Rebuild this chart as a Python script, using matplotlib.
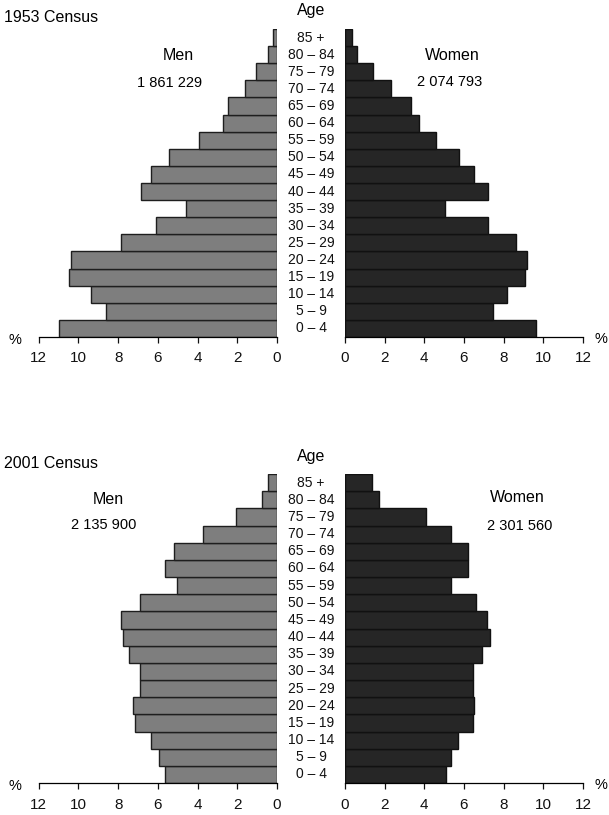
import numpy as np
import matplotlib
matplotlib.use("Agg")
import matplotlib.pyplot as plt
from matplotlib.transforms import blended_transform_factory

plt.rcParams['font.family'] = ['Liberation Sans', 'DejaVu Sans']

# age groups, bottom to top
ages = ["0 – 4", "5 – 9", "10 – 14", "15 – 19", "20 – 24", "25 – 29", "30 – 34",
        "35 – 39", "40 – 44", "45 – 49", "50 – 54", "55 – 59", "60 – 64",
        "65 – 69", "70 – 74", "75 – 79", "80 – 84", "85 +"]

men_1953 = [10.96, 8.59, 9.36, 10.47, 10.35, 7.88, 6.07, 4.59, 6.87, 6.35,
            5.46, 3.93, 2.74, 2.49, 1.63, 1.06, 0.47, 0.2]
women_1953 = [9.61, 7.48, 8.19, 9.08, 9.19, 8.6, 7.2, 5.02, 7.2, 6.49,
              5.74, 4.61, 3.72, 3.32, 2.32, 1.39, 0.62, 0.34]
men_2001 = [5.66, 5.93, 6.34, 7.16, 7.23, 6.92, 6.92, 7.46, 7.73, 7.87,
            6.92, 5.06, 5.66, 5.18, 3.75, 2.07, 0.76, 0.47]
women_2001 = [5.08, 5.32, 5.72, 6.43, 6.49, 6.43, 6.43, 6.9, 7.3, 7.18,
              6.61, 5.32, 6.19, 6.19, 5.32, 4.08, 1.73, 1.38]

xticks = [0, 2, 4, 6, 8, 10, 12]

W, H = 609, 815
fig = plt.figure(figsize=(W / 100, H / 100), dpi=100)


def px_axes(x0, y0, x1, y1):
    # pixel box (top-left origin) -> axes
    return fig.add_axes([x0 / W, 1 - y1 / H, (x1 - x0) / W, (y1 - y0) / H])


def ptext(x, y, s, **kw):
    fig.text(x / W, 1 - y / H, s, **kw)


def style(ax, pad):
    for side in ["left", "right", "top"]:
        ax.spines[side].set_visible(False)
    ax.spines["bottom"].set_linewidth(0.9)
    ax.set_yticks([])
    ax.set_xticks(xticks)
    ax.tick_params(axis="x", direction="out", length=4, width=0.9, pad=pad,
                   labelsize=11, colors="#111111")
    ax.set_ylim(-0.5, len(ages) - 0.5)


panels = [
    ("1953 Census", men_1953, women_1953, 29, 337, 6,
     ("1 861 229", 178, 55, 170, 83), ("2 074 793", 452, 55, 450, 82)),
    ("2001 Census", men_2001, women_2001, 474, 783, 6.5,
     ("2 135 900", 108, 500, 104, 525), ("2 301 560", 517, 498, 520, 526)),
]

y = np.arange(len(ages))
for title, men, women, top, bot, pad, mlab, wlab in panels:
    axm = px_axes(38.7, top, 277, bot)
    axm.barh(y, men, height=1.0, color="#7e7e7e", edgecolor="#1e1e1e", linewidth=1.0)
    axm.set_xlim(12, 0)
    style(axm, pad)

    axw = px_axes(345, top, 583, bot)
    axw.barh(y, women, height=1.0, color="#262626", edgecolor="#111111", linewidth=1.0)
    axw.set_xlim(0, 12)
    style(axw, pad)

    tr = blended_transform_factory(fig.transFigure, axw.transData)
    for yi, lab in zip(y, ages):
        axw.text(311 / W, yi, lab, transform=tr, ha="center", va="center",
                 fontsize=10, color="#111111")

    ptext(4, top - 11, title, fontsize=11.5, va="center", ha="left")
    ptext(311, top - 18, "Age", fontsize=11.5, va="center", ha="center")
    ptext(mlab[1], mlab[2], "Men", fontsize=11.5, va="center", ha="center")
    ptext(mlab[3], mlab[4], mlab[0], fontsize=10.5, va="center", ha="center")
    ptext(wlab[1], wlab[2], "Women", fontsize=11.5, va="center", ha="center")
    ptext(wlab[3], wlab[4], wlab[0], fontsize=10.5, va="center", ha="center")
    ptext(15, bot + 3, "%", fontsize=10.5, va="center", ha="center")
    ptext(601, bot + 2, "%", fontsize=10.5, va="center", ha="center")

fig.savefig("out.png", dpi=100, facecolor="white")
